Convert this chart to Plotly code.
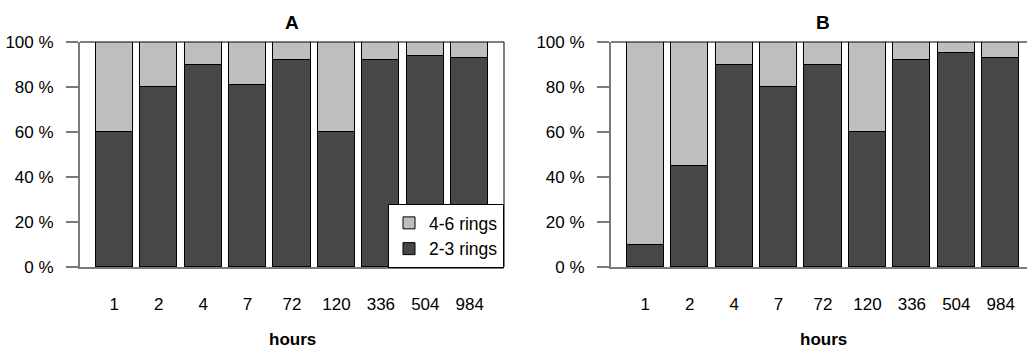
import plotly.graph_objects as go

# Sampling times (hours) and share of 2-3 ring / 4-6 ring fractions (%)
hours = ["1", "2", "4", "7", "72", "120", "336", "504", "984"]
rings_2_3_A = [60, 80, 90, 81, 92, 60, 92, 94, 93]
rings_2_3_B = [10, 45, 90, 80, 90, 60, 92, 95, 93]
rings_4_6_A = [100 - v for v in rings_2_3_A]
rings_4_6_B = [100 - v for v in rings_2_3_B]
y_ticks = [0, 20, 40, 60, 80, 100]

DARK = "#474747"
LIGHT = "#bebebe"
FONT = "Liberation Sans, Arial, sans-serif"

W, H = 1027, 351
# bar centres as in an R barplot (width 1, space 0.2)
xpos = [0.7 + 1.2 * i for i in range(len(hours))]

fig = go.Figure()

for idx, (low, high) in enumerate([(rings_2_3_A, rings_4_6_A), (rings_2_3_B, rings_4_6_B)]):
    xa = "x" if idx == 0 else "x2"
    ya = "y" if idx == 0 else "y2"
    fig.add_trace(go.Bar(x=xpos, y=low, width=1, name="2-3 rings",
                         marker=dict(color=DARK, line=dict(color="black", width=1)),
                         xaxis=xa, yaxis=ya, showlegend=(idx == 0), legendrank=2))
    fig.add_trace(go.Bar(x=xpos, y=high, width=1, name="4-6 rings",
                         marker=dict(color=LIGHT, line=dict(color="black", width=1)),
                         xaxis=xa, yaxis=ya, showlegend=(idx == 0), legendrank=1))

y_top = 1 - 42 / H
y_bot = 1 - 267 / H
xdomA = [80 / W, 504 / W]
xdomB = [611 / W, 1.0]
unit = 424 / 11.448
xmaxB = -0.224 + (W - 611) / unit

xaxis_common = dict(
    tickmode="array", tickvals=xpos, ticktext=hours, ticks="", showgrid=False,
    zeroline=False, showline=True, linecolor="#7a7a7a", linewidth=2,
    tickfont=dict(family=FONT, size=17, color="black"), ticklabelstandoff=21,
    fixedrange=True, automargin=False,
)
yaxis_common = dict(
    range=[0, 100], tickmode="array", tickvals=y_ticks,
    ticktext=[f"{v} %" for v in y_ticks], ticks="outside", ticklen=12,
    tickcolor="#7a7a7a", tickwidth=1.5, showgrid=False, zeroline=False,
    showline=True, linecolor="#7a7a7a", linewidth=2,
    tickfont=dict(family=FONT, size=17, color="black"), ticklabelstandoff=9,
    fixedrange=True, automargin=False,
)

fig.update_layout(
    width=W, height=H, margin=dict(l=0, r=0, t=0, b=0, pad=0, autoexpand=False),
    paper_bgcolor="white", plot_bgcolor="white",
    barmode="stack", bargap=0,
    xaxis=dict(domain=xdomA, range=[-0.224, 11.224], anchor="y", **xaxis_common),
    yaxis=dict(domain=[y_bot, y_top], anchor="x", **yaxis_common),
    xaxis2=dict(domain=xdomB, range=[-0.224, xmaxB], anchor="y2", **xaxis_common),
    yaxis2=dict(domain=[y_bot, y_top], anchor="x2", **yaxis_common),
    legend=dict(
        x=504 / W, y=1 - 268 / H, xanchor="right", yanchor="bottom",
        bgcolor="white", bordercolor="black", borderwidth=1,
        font=dict(family=FONT, size=17.5, color="black"),
        traceorder="normal", tracegroupgap=0,
    ),
    showlegend=True,
)

# plot box: black top and right edges
fig.add_shape(type="line", xref="x domain", yref="y domain", x0=0, x1=1, y0=1, y1=1,
              line=dict(color="black", width=1))
fig.add_shape(type="line", xref="x domain", yref="y domain", x0=1, x1=1, y0=0, y1=1,
              line=dict(color="black", width=1))
fig.add_shape(type="line", xref="x2 domain", yref="y2 domain", x0=0, x1=1, y0=1, y1=1,
              line=dict(color="black", width=1))

# panel titles and x-axis titles
for title, dom in [("A", xdomA), ("B", [611 / W, 1035 / W])]:
    cx = (dom[0] + dom[1]) / 2
    fig.add_annotation(text=f"<b>{title}</b>", xref="paper", yref="paper",
                       x=cx, y=1 - 22.5 / H, xanchor="center", yanchor="middle",
                       showarrow=False, font=dict(family=FONT, size=19, color="black"))
    fig.add_annotation(text="<b>hours</b>", xref="paper", yref="paper",
                       x=cx, y=1 - 339.5 / H, xanchor="center", yanchor="middle",
                       showarrow=False, font=dict(family=FONT, size=17, color="black"))

fig.write_html("out.html")
